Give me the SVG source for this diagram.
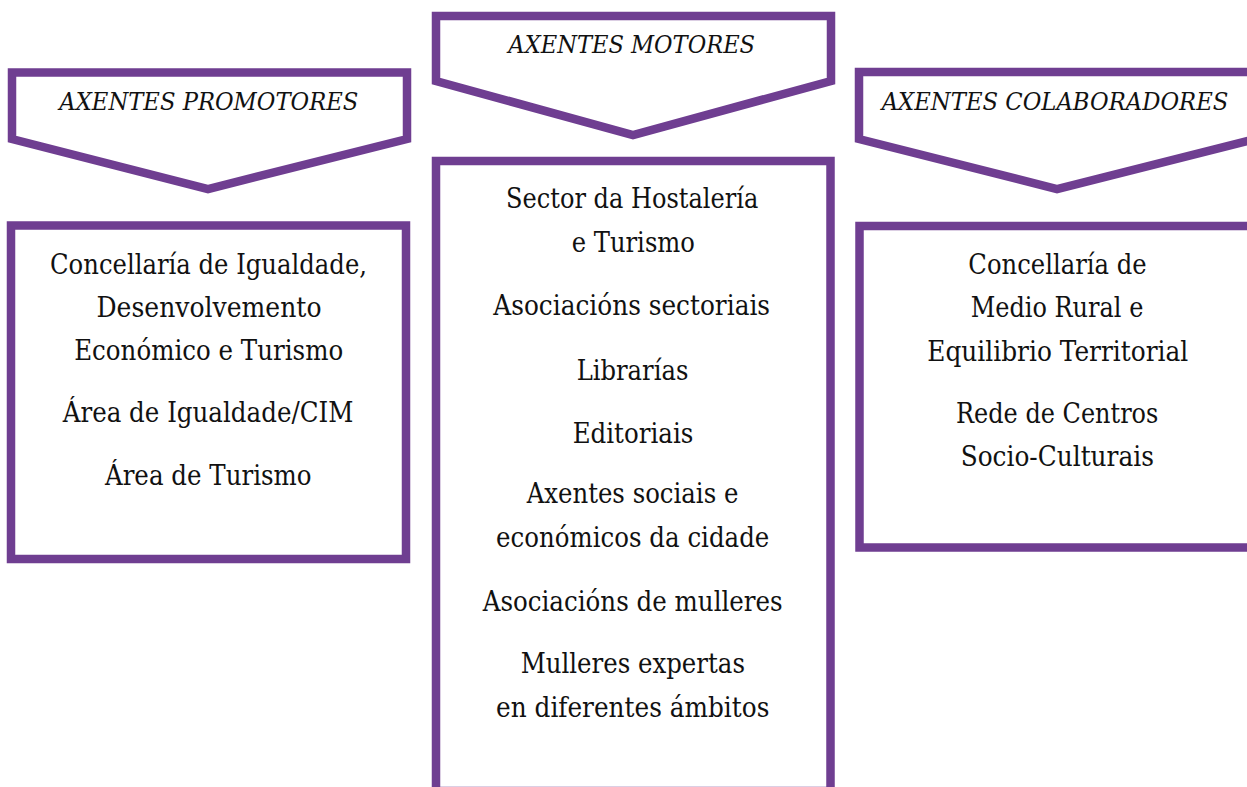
<svg xmlns="http://www.w3.org/2000/svg" width="1247" height="787" viewBox="0 0 1247 787">
<style>
.shape{fill:#ffffff;stroke:#6f3e91;stroke-width:8.5;stroke-linejoin:miter}
.hd{font-family:"DejaVu Serif","Liberation Serif",serif;font-style:italic;font-size:25px;fill:#111111;text-anchor:middle}
.bd{font-family:"DejaVu Serif","Liberation Serif",serif;font-size:27px;fill:#111111;text-anchor:middle}
</style>
<rect x="0" y="0" width="1247" height="787" fill="#ffffff"/>
<g id="head-promotores">
<polygon class="shape" points="12,72.5 407,72.5 407,139 208,189 12,139"/>
<text class="hd" x="208.8" y="110" textLength="299" lengthAdjust="spacingAndGlyphs">AXENTES PROMOTORES</text>
</g>
<g id="head-motores">
<polygon class="shape" points="436,16 831,16 831,81 633,135 436,81"/>
<text class="hd" x="631.7" y="53.3" textLength="246.7" lengthAdjust="spacingAndGlyphs">AXENTES MOTORES</text>
</g>
<g id="head-colaboradores">
<polygon class="shape" points="859,72 1255,72 1255,139 1057,189 859,139"/>
<text class="hd" x="1055" y="110" textLength="346.7" lengthAdjust="spacingAndGlyphs">AXENTES COLABORADORES</text>
</g>
<g id="box-promotores">
<rect class="shape" x="11" y="225.5" width="395" height="333.5"/>
<text class="bd" x="208.5" y="274.3" textLength="317" lengthAdjust="spacingAndGlyphs">Concellaría de Igualdade,</text>
<text class="bd" x="209" y="316.7" textLength="225" lengthAdjust="spacingAndGlyphs">Desenvolvemento</text>
<text class="bd" x="208.7" y="360" textLength="269" lengthAdjust="spacingAndGlyphs">Económico e Turismo</text>
<text class="bd" x="208" y="421.7" textLength="290.6" lengthAdjust="spacingAndGlyphs">Área de Igualdade/CIM</text>
<text class="bd" x="208.3" y="485" textLength="206.7" lengthAdjust="spacingAndGlyphs">Área de Turismo</text>
</g>
<g id="box-motores">
<rect class="shape" x="436" y="161" width="394.5" height="630"/>
<text class="bd" x="632.2" y="208.3" textLength="252.3" lengthAdjust="spacingAndGlyphs">Sector da Hostalería</text>
<text class="bd" x="633.3" y="251.7" textLength="123.3" lengthAdjust="spacingAndGlyphs">e Turismo</text>
<text class="bd" x="631.7" y="315" textLength="276.7" lengthAdjust="spacingAndGlyphs">Asociacións sectoriais</text>
<text class="bd" x="632.5" y="380" textLength="111.7" lengthAdjust="spacingAndGlyphs">Librarías</text>
<text class="bd" x="633" y="443" textLength="120.7" lengthAdjust="spacingAndGlyphs">Editoriais</text>
<text class="bd" x="632.5" y="503.3" textLength="211.7" lengthAdjust="spacingAndGlyphs">Axentes sociais e</text>
<text class="bd" x="632.7" y="547.3" textLength="273.3" lengthAdjust="spacingAndGlyphs">económicos da cidade</text>
<text class="bd" x="632.7" y="610.7" textLength="300" lengthAdjust="spacingAndGlyphs">Asociacións de mulleres</text>
<text class="bd" x="632.8" y="673.3" textLength="224.3" lengthAdjust="spacingAndGlyphs">Mulleres expertas</text>
<text class="bd" x="632.7" y="716.7" textLength="273.3" lengthAdjust="spacingAndGlyphs">en diferentes ámbitos</text>
</g>
<g id="box-colaboradores">
<rect class="shape" x="859.5" y="226" width="400" height="321.5"/>
<text class="bd" x="1057.5" y="274.3" textLength="178.3" lengthAdjust="spacingAndGlyphs">Concellaría de</text>
<text class="bd" x="1057" y="316.7" textLength="172.7" lengthAdjust="spacingAndGlyphs">Medio Rural e</text>
<text class="bd" x="1057.8" y="361" textLength="261" lengthAdjust="spacingAndGlyphs">Equilibrio Territorial</text>
<text class="bd" x="1057.2" y="423.3" textLength="202.3" lengthAdjust="spacingAndGlyphs">Rede de Centros</text>
<text class="bd" x="1057.3" y="465.7" textLength="193.3" lengthAdjust="spacingAndGlyphs">Socio-Culturais</text>
</g>
<g id="connectors"></g>
</svg>
